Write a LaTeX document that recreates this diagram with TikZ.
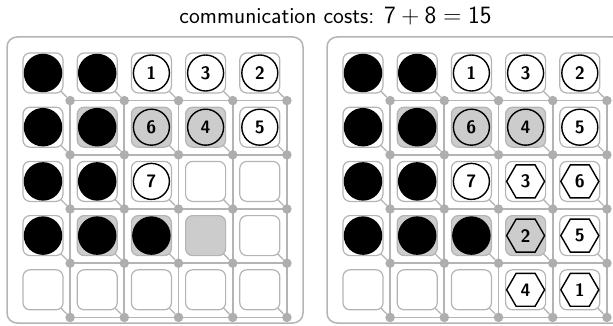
\documentclass[tikz,border=0pt]{standalone}
\usetikzlibrary{shapes.geometric}
\definecolor{gridgray}{HTML}{B4B4B4}
\definecolor{dotgray}{HTML}{AEAEAE}
\definecolor{cellgray}{HTML}{CCCCCC}
\tikzset{
  panelbox/.style={draw=gridgray, line width=1.5pt, rounded corners=10pt, minimum width=296pt, minimum height=286pt, inner sep=0pt},
  cellbox/.style={draw=gridgray, line width=1.2pt, rounded corners=7pt, minimum size=40pt, inner sep=0pt, fill=white},
  gray0/.style={},
  gray1/.style={fill=cellgray},
  router/.style={circle, fill=dotgray, minimum size=9.5pt, inner sep=0pt},
  gridline/.style={gridgray, line width=1.7pt},
  diagline/.style={gridgray, line width=1.3pt},
  blackdot/.style={circle, fill=black, minimum size=38.5pt, inner sep=0pt},
  numfont/.style={font=\fontsize{18}{18}\selectfont\sffamily\bfseries},
  numcircle/.style={circle, draw=black, fill=white, line width=1.4pt, minimum size=36pt, inner sep=0pt, numfont},
  numhex/.style={regular polygon, regular polygon sides=6, draw=black, fill=white, line width=1.4pt, minimum size=38pt, inner sep=0pt, numfont},
}
\newcommand\mypanel[3]{%
  \begin{scope}[shift={(#2,0)}]
    \node[panelbox] (#1-panel) at (155,180) {};
    \foreach \i in {0,...,4}{\foreach \j in {0,...,4}{
      \coordinate (#1-p-\i-\j) at ({70.1+54.2*\j},{100.6+54.2*\i});}}
    \foreach \k in {0,...,4}{
      \draw[gridline] (#1-p-\k-0) -- (#1-p-\k-4);
      \draw[gridline] (#1-p-0-\k) -- (#1-p-4-\k);}
    \foreach \i in {0,...,4}{\foreach \j in {0,...,4}{
      \node[router] (#1-d-\i-\j) at (#1-p-\i-\j) {};}}
    \foreach \i/\j/\t/\l/\g in {#3}{
      \coordinate (#1-c-\i-\j) at ({43+54.2*\j},{73+54.2*\i});
      \draw[diagline] (#1-c-\i-\j) -- (#1-d-\i-\j);
      \node[cellbox, gray\g] (#1-cell-\i-\j) at (#1-c-\i-\j) {};
      \ifcase\t\relax
      \or \node[blackdot] (#1-k-\i-\j) at (#1-c-\i-\j) {};
      \or \node[numcircle, gray\g] (#1-k-\i-\j) at (#1-c-\i-\j) {\l};
      \or \node[numhex, gray\g] (#1-k-\i-\j) at (#1-c-\i-\j) {\l};
      \fi
    }
  \end{scope}}
\begin{document}
\begin{tikzpicture}[x=1pt, y=-1pt]
  \useasboundingbox (0,0) rectangle (613,326);
  \clip (0,0) rectangle (613,326);
  \node[font=\fontsize{23}{27}\selectfont\sffamily, anchor=base, inner sep=0pt] (title) at (335.5,24)
    {communication costs: $\mathsf{7} + \mathsf{8} = \mathsf{15}$};
  \mypanel{L}{0}{
    0/0/1/-/0, 0/1/1/-/0, 0/2/2/1/0, 0/3/2/3/0, 0/4/2/2/0,
    1/0/1/-/0, 1/1/1/-/1, 1/2/2/6/1, 1/3/2/4/1, 1/4/2/5/0,
    2/0/1/-/0, 2/1/1/-/0, 2/2/2/7/0, 2/3/0/-/0, 2/4/0/-/0,
    3/0/1/-/0, 3/1/1/-/1, 3/2/1/-/1, 3/3/0/-/1, 3/4/0/-/0,
    4/0/0/-/0, 4/1/0/-/0, 4/2/0/-/0, 4/3/0/-/0, 4/4/0/-/0}
  \mypanel{R}{320}{
    0/0/1/-/0, 0/1/1/-/0, 0/2/2/1/0, 0/3/2/3/0, 0/4/2/2/0,
    1/0/1/-/0, 1/1/1/-/1, 1/2/2/6/1, 1/3/2/4/1, 1/4/2/5/0,
    2/0/1/-/0, 2/1/1/-/0, 2/2/2/7/0, 2/3/3/3/0, 2/4/3/6/0,
    3/0/1/-/0, 3/1/1/-/1, 3/2/1/-/1, 3/3/3/2/1, 3/4/3/5/0,
    4/0/0/-/0, 4/1/0/-/0, 4/2/0/-/0, 4/3/3/4/0, 4/4/3/1/0}
\end{tikzpicture}
\end{document}
